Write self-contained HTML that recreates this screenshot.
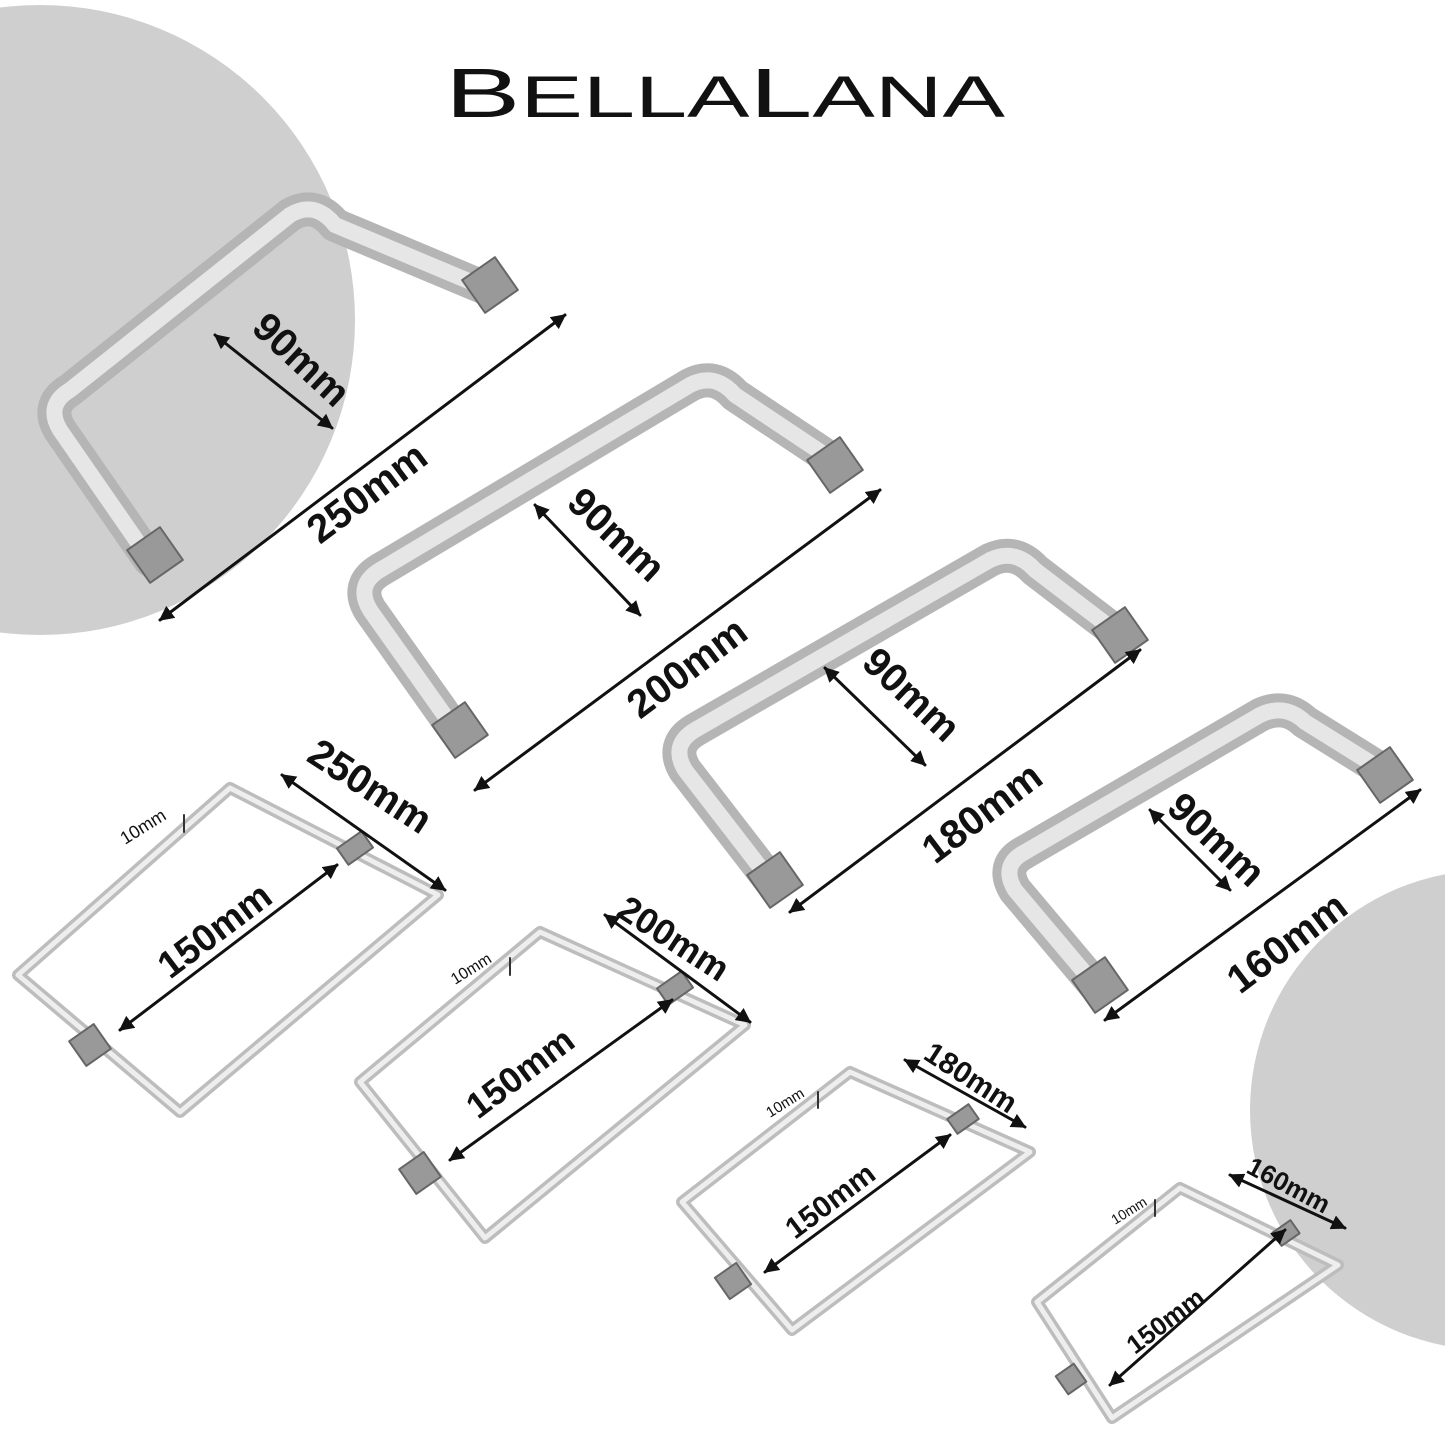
<!DOCTYPE html>
<html><head><meta charset="utf-8"><style>
html,body{margin:0;padding:0;background:#fff}
svg{display:block}
text{font-family:"Liberation Sans",sans-serif;font-weight:bold;fill:#111}
</style></head><body>
<svg width="1445" height="1445" viewBox="0 0 1445 1445" xmlns="http://www.w3.org/2000/svg">
<defs>
<marker id="a" viewBox="0 0 10 10" refX="9" refY="5" markerWidth="5" markerHeight="5" orient="auto-start-reverse"><path d="M0,0L10,5L0,10z" fill="#111"/></marker>
</defs>
<rect width="1445" height="1445" fill="#fff"/>
<circle cx="40" cy="320" r="315" fill="#cfcfcf"/>
<circle cx="1490" cy="1110" r="240" fill="#cfcfcf"/>
<text x="445" y="117" font-size="70" textLength="560" lengthAdjust="spacingAndGlyphs" style="font-weight:normal">B<tspan font-size="58">ELLA</tspan>L<tspan font-size="58">ANA</tspan></text>

<g fill="none" stroke-linejoin="round" stroke-linecap="round">
<g stroke="#b5b5b5" stroke-width="34">
<path d="M150,560 L60,430 Q45,405 70,390 L290,215 Q315,200 335,225 L490,290"/>
<path d="M455,730 L370,610 Q355,585 380,570 L690,385 Q715,372 735,395 L840,465"/>
<path d="M770,880 L685,770 Q670,745 695,730 L990,560 Q1015,548 1035,570 L1120,635"/>
<path d="M1095,985 L1015,890 Q1000,865 1025,852 L1260,715 Q1285,703 1305,722 L1390,775"/>
</g>
<g stroke="#e6e6e6" stroke-width="16">
<path d="M150,560 L60,430 Q45,405 70,390 L290,215 Q315,200 335,225 L490,290"/>
<path d="M455,730 L370,610 Q355,585 380,570 L690,385 Q715,372 735,395 L840,465"/>
<path d="M770,880 L685,770 Q670,745 695,730 L990,560 Q1015,548 1035,570 L1120,635"/>
<path d="M1095,985 L1015,890 Q1000,865 1025,852 L1260,715 Q1285,703 1305,722 L1390,775"/>
</g>
<g stroke="#bdbdbd" stroke-width="12">
<path d="M230,788 L438,895 L180,1112 L18,975 Z"/>
<path d="M540,932 L745,1025 L485,1238 L360,1082 Z"/>
<path d="M850,1072 L1030,1152 L792,1330 L682,1202 Z"/>
<path d="M1180,1188 L1338,1265 L1112,1418 L1037,1302 Z"/>
</g>
<g stroke="#eeeeee" stroke-width="5">
<path d="M230,788 L438,895 L180,1112 L18,975 Z"/>
<path d="M540,932 L745,1025 L485,1238 L360,1082 Z"/>
<path d="M850,1072 L1030,1152 L792,1330 L682,1202 Z"/>
<path d="M1180,1188 L1338,1265 L1112,1418 L1037,1302 Z"/>
</g>
<g fill="#999" stroke="#666" stroke-width="2">
<rect x="135" y="535" width="40" height="40" transform="rotate(-35 155 555)"/>
<rect x="470" y="265" width="40" height="40" transform="rotate(-35 490 285)"/>
<rect x="440" y="710" width="40" height="40" transform="rotate(-35 460 730)"/>
<rect x="815" y="445" width="40" height="40" transform="rotate(-35 835 465)"/>
<rect x="755" y="860" width="40" height="40" transform="rotate(-35 775 880)"/>
<rect x="1100" y="615" width="40" height="40" transform="rotate(-35 1120 635)"/>
<rect x="1080" y="965" width="40" height="40" transform="rotate(-35 1100 985)"/>
<rect x="1365" y="755" width="40" height="40" transform="rotate(-35 1385 775)"/>
<rect x="75" y="1030" width="30" height="30" transform="rotate(-35 90 1045)"/>
<rect x="340" y="838" width="30" height="20" transform="rotate(-35 355 848)"/>
<rect x="405" y="1158" width="30" height="30" transform="rotate(-35 420 1173)"/>
<rect x="660" y="978" width="30" height="20" transform="rotate(-35 675 988)"/>
<rect x="720" y="1268" width="26" height="26" transform="rotate(-35 733 1281)"/>
<rect x="950" y="1110" width="26" height="18" transform="rotate(-35 963 1119)"/>
<rect x="1060" y="1368" width="22" height="22" transform="rotate(-35 1071 1379)"/>
<rect x="1275" y="1225" width="22" height="16" transform="rotate(-35 1286 1233)"/>
</g>
<g stroke="#111" stroke-width="3" marker-start="url(#a)" marker-end="url(#a)">
<line x1="160" y1="620" x2="565" y2="315"/>
<line x1="215" y1="335" x2="332" y2="428"/>
<line x1="475" y1="790" x2="880" y2="490"/>
<line x1="535" y1="505" x2="640" y2="615"/>
<line x1="790" y1="912" x2="1140" y2="650"/>
<line x1="825" y1="668" x2="925" y2="765"/>
<line x1="1105" y1="1020" x2="1420" y2="790"/>
<line x1="1150" y1="810" x2="1230" y2="890"/>
<line x1="282" y1="775" x2="445" y2="890"/>
<line x1="120" y1="1030" x2="337" y2="865"/>
<line x1="605" y1="915" x2="750" y2="1022"/>
<line x1="450" y1="1160" x2="672" y2="1000"/>
<line x1="905" y1="1060" x2="1025" y2="1127"/>
<line x1="765" y1="1272" x2="950" y2="1135"/>
<line x1="1230" y1="1175" x2="1345" y2="1228"/>
<line x1="1110" y1="1385" x2="1285" y2="1230"/>
</g>
<g stroke="#333" stroke-width="2">
<line x1="184" y1="815" x2="184" y2="832"/>
<line x1="510" y1="958" x2="510" y2="975"/>
<line x1="818" y1="1092" x2="818" y2="1108"/>
<line x1="1155" y1="1200" x2="1155" y2="1216"/>
</g>
</g>

<text font-size="40" transform="translate(320,545) rotate(-37)">250mm</text>
<text font-size="40" transform="translate(250,330) rotate(43)">90mm</text>
<text font-size="40" transform="translate(640,720) rotate(-37)">200mm</text>
<text font-size="40" transform="translate(565,505) rotate(43)">90mm</text>
<text font-size="40" transform="translate(935,865) rotate(-37)">180mm</text>
<text font-size="40" transform="translate(860,665) rotate(43)">90mm</text>
<text font-size="40" transform="translate(1240,995) rotate(-37)">160mm</text>
<text font-size="40" transform="translate(1165,810) rotate(43)">90mm</text>

<text font-size="40" transform="translate(305,760) rotate(33)">250mm</text>
<text font-size="38" transform="translate(170,980) rotate(-37)">150mm</text>
<text font-size="18" style="font-weight:normal" transform="translate(125,845) rotate(-32)">10mm</text>
<text font-size="36" transform="translate(615,915) rotate(33)">200mm</text>
<text font-size="36" transform="translate(478,1120) rotate(-37)">150mm</text>
<text font-size="16" style="font-weight:normal" transform="translate(455,985) rotate(-32)">10mm</text>
<text font-size="30" transform="translate(922,1058) rotate(33)">180mm</text>
<text font-size="30" transform="translate(795,1240) rotate(-37)">150mm</text>
<text font-size="15" style="font-weight:normal" transform="translate(770,1118) rotate(-32)">10mm</text>
<text font-size="26" transform="translate(1245,1172) rotate(28)">160mm</text>
<text font-size="26" transform="translate(1135,1355) rotate(-37)">150mm</text>
<text font-size="14" style="font-weight:normal" transform="translate(1115,1225) rotate(-32)">10mm</text>
</svg>
</body></html>
